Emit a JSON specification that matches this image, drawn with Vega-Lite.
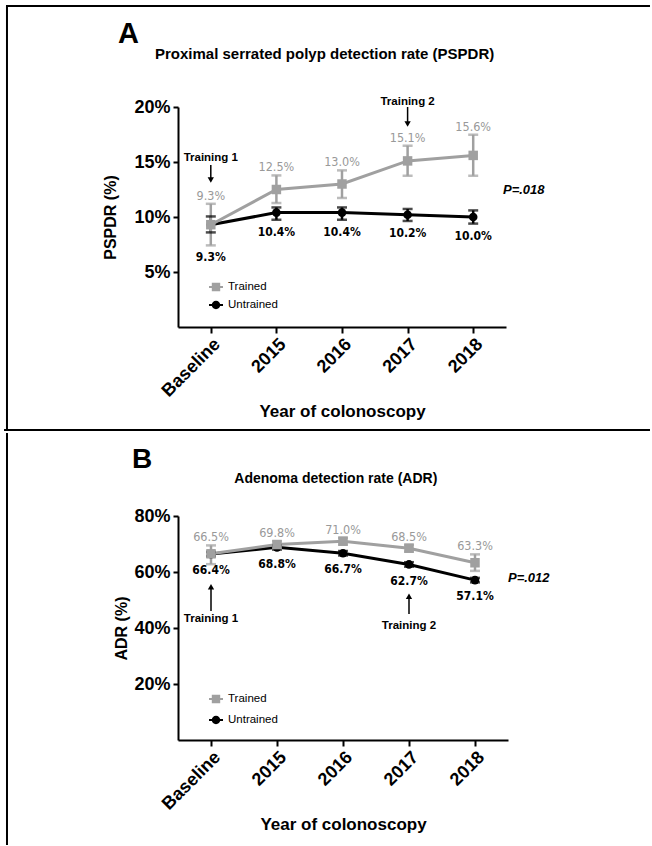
{
  "$schema": "https://vega.github.io/schema/vega-lite/v6.json",
  "padding": {"left": 3, "top": 5, "right": 0, "bottom": 0},
  "background": "white",
  "spacing": 0,
  "resolve": {"scale": {"color": "independent", "shape": "independent"}},
  "datasets": {
    "pspdr": [
      {"group": "Untrained", "year": "Baseline", "value": 0.093, "lo": 0.086, "hi": 0.1005},
      {"group": "Untrained", "year": "2015", "value": 0.104, "lo": 0.0975, "hi": 0.1087},
      {"group": "Untrained", "year": "2016", "value": 0.104, "lo": 0.0975, "hi": 0.1087},
      {"group": "Untrained", "year": "2017", "value": 0.102, "lo": 0.0964, "hi": 0.1073},
      {"group": "Untrained", "year": "2018", "value": 0.100, "lo": 0.094, "hi": 0.106},
      {"group": "Trained", "year": "Baseline", "value": 0.093, "lo": 0.0742, "hi": 0.112},
      {"group": "Trained", "year": "2015", "value": 0.125, "lo": 0.1127, "hi": 0.1378},
      {"group": "Trained", "year": "2016", "value": 0.130, "lo": 0.1173, "hi": 0.1424},
      {"group": "Trained", "year": "2017", "value": 0.151, "lo": 0.1375, "hi": 0.1648},
      {"group": "Trained", "year": "2018", "value": 0.156, "lo": 0.1375, "hi": 0.1748}
    ],
    "adr": [
      {"group": "Untrained", "year": "Baseline", "value": 0.664, "lo": 0.656, "hi": 0.672},
      {"group": "Untrained", "year": "2015", "value": 0.688, "lo": 0.680, "hi": 0.696},
      {"group": "Untrained", "year": "2016", "value": 0.667, "lo": 0.659, "hi": 0.675},
      {"group": "Untrained", "year": "2017", "value": 0.627, "lo": 0.619, "hi": 0.635},
      {"group": "Untrained", "year": "2018", "value": 0.571, "lo": 0.563, "hi": 0.579},
      {"group": "Trained", "year": "Baseline", "value": 0.665, "lo": 0.628, "hi": 0.695},
      {"group": "Trained", "year": "2015", "value": 0.698, "lo": 0.686, "hi": 0.710},
      {"group": "Trained", "year": "2016", "value": 0.710, "lo": 0.698, "hi": 0.722},
      {"group": "Trained", "year": "2017", "value": 0.685, "lo": 0.673, "hi": 0.697},
      {"group": "Trained", "year": "2018", "value": 0.633, "lo": 0.604, "hi": 0.663}
    ]
  },
  "config": {
    "font": "Liberation Sans",
    "view": {"stroke": null},
    "axis": {"grid": false, "domainColor": "black", "domainWidth": 2, "tickColor": "black", "tickWidth": 2, "labelColor": "black", "labelFont": "Liberation Sans", "labelFontWeight": "bold", "titleFont": "Liberation Sans", "titleFontWeight": "bold", "titleColor": "black"},
    "axisX": {"labelAngle": -45, "labelFontSize": 18, "tickSize": 6, "labelPadding": 2, "titleFontSize": 17, "titlePadding": 3},
    "axisY": {"labelFontSize": 18, "tickSize": 5, "labelPadding": 3, "titleFontSize": 16},
    "legend": {"title": null, "padding": 0, "labelFont": "Liberation Sans", "labelColor": "black", "labelFontSize": 11.5, "symbolSize": 196, "symbolStrokeWidth": 0, "symbolOpacity": 1}
  },
  "vconcat": [
    {
      "width": 328,
      "height": 220,
      "resolve": {"scale": {"x": "independent"}},
      "layer": [
        {
          "data": {"name": "pspdr"},
          "encoding": {
            "x": {"field": "year", "type": "ordinal", "scale": {"type": "point", "domain": ["Baseline", "2015", "2016", "2017", "2018"], "padding": 0.5}, "axis": {"title": "Year of colonoscopy"}},
            "y": {"field": "value", "type": "quantitative", "scale": {"domain": [0, 0.2], "nice": false}, "axis": {"title": "PSPDR (%)", "values": [0.05, 0.1, 0.15, 0.2], "format": ".0%", "titlePadding": 15}}
          },
          "layer": [
            {
              "mark": {"type": "line", "strokeWidth": 3},
              "encoding": {
                "color": {"field": "group", "type": "nominal", "scale": {"domain": ["Trained", "Untrained"], "range": ["#a0a0a0", "#000000"]}},
                "order": {"value": null}
              }
            },
            {
              "mark": {"type": "rule", "strokeWidth": 2.5},
              "encoding": {"y": {"field": "lo", "type": "quantitative"}, "y2": {"field": "hi"}, "color": {"field": "group", "type": "nominal"}}
            },
            {
              "mark": {"type": "tick", "thickness": 2.5, "size": 10},
              "encoding": {"y": {"field": "lo", "type": "quantitative"}, "color": {"field": "group", "type": "nominal"}}
            },
            {
              "mark": {"type": "tick", "thickness": 2.5, "size": 10},
              "encoding": {"y": {"field": "hi", "type": "quantitative"}, "color": {"field": "group", "type": "nominal"}}
            },
            {
              "transform": [{"filter": "false"}],
              "mark": {"type": "point", "filled": true, "opacity": 1},
              "encoding": {
                "color": {"field": "group", "type": "nominal", "legend": {"orient": "none", "legendX": 31, "legendY": 173, "direction": "vertical", "rowPadding": 5, "labelOffset": 5, "symbolOpacity": 1}},
                "shape": {"field": "group", "type": "nominal", "scale": {"domain": ["Trained", "Untrained"], "range": ["M-1,-0.15H1V0.15H-1Z M-0.6,-0.6H0.6V0.6H-0.6Z", "M-1,-0.15H1V0.15H-1Z M0.6,0A0.6,0.6,0,1,1,-0.6,0A0.6,0.6,0,1,1,0.6,0Z"]}, "legend": {"orient": "none", "legendX": 31, "legendY": 173, "direction": "vertical", "rowPadding": 5, "labelOffset": 5, "symbolOpacity": 1}}
              }
            },
            {
              "transform": [{"filter": "datum.group === 'Untrained'"}],
              "mark": {"type": "point", "filled": true, "opacity": 1, "shape": "circle", "size": 75},
              "encoding": {"color": {"field": "group", "type": "nominal"}}
            },
            {
              "transform": [{"filter": "datum.group === 'Trained'"}],
              "mark": {"type": "point", "filled": true, "opacity": 1, "shape": "square", "size": 90},
              "encoding": {"color": {"field": "group", "type": "nominal"}}
            },
            {
              "transform": [{"filter": "datum.group === 'Trained'"}],
              "mark": {"type": "text", "dy": -8, "baseline": "middle", "font": "DejaVu Sans Condensed", "fontSize": 12.5, "color": "#999999"},
              "encoding": {"y": {"field": "hi", "type": "quantitative"}, "text": {"field": "value", "type": "quantitative", "format": ".1%"}}
            },
            {
              "transform": [{"filter": "datum.group === 'Untrained' && datum.year !== 'Baseline'"}],
              "mark": {"type": "text", "dy": 12, "baseline": "middle", "font": "DejaVu Sans Condensed", "fontWeight": "bold", "fontSize": 12, "color": "#000000"},
              "encoding": {"y": {"field": "lo", "type": "quantitative"}, "text": {"field": "value", "type": "quantitative", "format": ".1%"}}
            },
            {
              "transform": [{"filter": "datum.group === 'Untrained' && datum.year === 'Baseline'"}],
              "mark": {"type": "text", "dy": 25, "baseline": "middle", "font": "DejaVu Sans Condensed", "fontWeight": "bold", "fontSize": 12, "color": "#000000"},
              "encoding": {"y": {"field": "lo", "type": "quantitative"}, "text": {"field": "value", "type": "quantitative", "format": ".1%"}}
            }
          ]
        },
        {
          "data": {"values": [{}]},
          "layer": [
            {
              "mark": {"type": "rule", "strokeWidth": 2, "color": "black"},
              "encoding": {"x": {"datum": -2.622, "type": "quantitative", "scale": {"domain": [0, 5], "nice": false, "zero": false}, "axis": null}, "x2": {"datum": 7.195}, "y": {"datum": 0.2918, "type": "quantitative"}}
            },
            {
              "mark": {"type": "rule", "strokeWidth": 2, "color": "black"},
              "encoding": {"x": {"datum": -2.607, "type": "quantitative", "scale": {"domain": [0, 5], "nice": false, "zero": false}, "axis": null}, "y": {"datum": 0.2918, "type": "quantitative"}, "y2": {"datum": -0.09364}}
            },
            {
              "mark": {"type": "rule", "strokeWidth": 2, "color": "black"},
              "encoding": {"x": {"datum": -2.652, "type": "quantitative", "scale": {"domain": [0, 5], "nice": false, "zero": false}, "axis": null}, "x2": {"datum": 7.195}, "y": {"datum": -0.09364, "type": "quantitative"}}
            },
            {
              "mark": {"type": "text", "text": "A", "fontWeight": "bold", "fontSize": 29, "align": "left", "baseline": "alphabetic", "color": "black"},
              "encoding": {"x": {"datum": -0.915, "type": "quantitative", "scale": {"domain": [0, 5], "nice": false, "zero": false}, "axis": null}, "y": {"datum": 0.2582, "type": "quantitative"}}
            },
            {
              "mark": {"type": "text", "text": "Proximal serrated polyp detection rate (PSPDR)", "fontWeight": "bold", "fontSize": 15, "align": "left", "baseline": "alphabetic", "color": "black"},
              "encoding": {"x": {"datum": -0.351, "type": "quantitative", "scale": {"domain": [0, 5], "nice": false, "zero": false}, "axis": null}, "y": {"datum": 0.2436, "type": "quantitative"}}
            },
            {
              "mark": {"type": "text", "text": "P=.018", "fontWeight": "bold", "fontStyle": "italic", "fontSize": 13, "align": "left", "baseline": "middle", "color": "black"},
              "encoding": {"x": {"datum": 4.954, "type": "quantitative", "scale": {"domain": [0, 5], "nice": false, "zero": false}, "axis": null}, "y": {"datum": 0.1245, "type": "quantitative"}}
            },
            {
              "mark": {"type": "text", "text": "Training 1", "fontWeight": "bold", "fontSize": 11.5, "baseline": "middle", "color": "black"},
              "encoding": {"x": {"datum": 0.5, "type": "quantitative", "scale": {"domain": [0, 5], "nice": false, "zero": false}, "axis": null}, "y": {"datum": 0.1532, "type": "quantitative"}}
            },
            {
              "mark": {"type": "rule", "strokeWidth": 1.5, "color": "black"},
              "encoding": {"x": {"datum": 0.5, "type": "quantitative", "scale": {"domain": [0, 5], "nice": false, "zero": false}, "axis": null}, "y": {"datum": 0.1473, "type": "quantitative"}, "y2": {"datum": 0.1355}}
            },
            {
              "mark": {"type": "point", "shape": "triangle-down", "filled": true, "size": 40, "color": "black", "opacity": 1},
              "encoding": {"x": {"datum": 0.5, "type": "quantitative", "scale": {"domain": [0, 5], "nice": false, "zero": false}, "axis": null}, "y": {"datum": 0.1336, "type": "quantitative"}}
            },
            {
              "mark": {"type": "text", "text": "Training 2", "fontWeight": "bold", "fontSize": 11.5, "baseline": "middle", "color": "black"},
              "encoding": {"x": {"datum": 3.5, "type": "quantitative", "scale": {"domain": [0, 5], "nice": false, "zero": false}, "axis": null}, "y": {"datum": 0.2048, "type": "quantitative"}}
            },
            {
              "mark": {"type": "rule", "strokeWidth": 1.5, "color": "black"},
              "encoding": {"x": {"datum": 3.5, "type": "quantitative", "scale": {"domain": [0, 5], "nice": false, "zero": false}, "axis": null}, "y": {"datum": 0.2, "type": "quantitative"}, "y2": {"datum": 0.1864}}
            },
            {
              "mark": {"type": "point", "shape": "triangle-down", "filled": true, "size": 40, "color": "black", "opacity": 1},
              "encoding": {"x": {"datum": 3.5, "type": "quantitative", "scale": {"domain": [0, 5], "nice": false, "zero": false}, "axis": null}, "y": {"datum": 0.1845, "type": "quantitative"}}
            }
          ]
        }
      ]
    },
    {
      "width": 330,
      "height": 224,
      "resolve": {"scale": {"x": "independent"}},
      "layer": [
        {
          "data": {"name": "adr"},
          "encoding": {
            "x": {"field": "year", "type": "ordinal", "scale": {"type": "point", "domain": ["Baseline", "2015", "2016", "2017", "2018"], "padding": 0.5}, "axis": {"title": "Year of colonoscopy"}},
            "y": {"field": "value", "type": "quantitative", "scale": {"domain": [0, 0.8], "nice": false}, "axis": {"title": "ADR (%)", "values": [0.2, 0.4, 0.6, 0.8], "format": ".0%", "titlePadding": 4}}
          },
          "layer": [
            {
              "mark": {"type": "line", "strokeWidth": 3},
              "encoding": {
                "color": {"field": "group", "type": "nominal", "scale": {"domain": ["Trained", "Untrained"], "range": ["#a0a0a0", "#000000"]}},
                "order": {"value": null}
              }
            },
            {
              "mark": {"type": "rule", "strokeWidth": 2.5},
              "encoding": {"y": {"field": "lo", "type": "quantitative"}, "y2": {"field": "hi"}, "color": {"field": "group", "type": "nominal"}}
            },
            {
              "mark": {"type": "tick", "thickness": 2.5, "size": 10},
              "encoding": {"y": {"field": "lo", "type": "quantitative"}, "color": {"field": "group", "type": "nominal"}}
            },
            {
              "mark": {"type": "tick", "thickness": 2.5, "size": 10},
              "encoding": {"y": {"field": "hi", "type": "quantitative"}, "color": {"field": "group", "type": "nominal"}}
            },
            {
              "transform": [{"filter": "false"}],
              "mark": {"type": "point", "filled": true, "opacity": 1},
              "encoding": {
                "color": {"field": "group", "type": "nominal", "legend": {"orient": "none", "legendX": 31, "legendY": 176, "direction": "vertical", "rowPadding": 8, "labelOffset": 5, "symbolOpacity": 1}},
                "shape": {"field": "group", "type": "nominal", "scale": {"domain": ["Trained", "Untrained"], "range": ["M-1,-0.15H1V0.15H-1Z M-0.6,-0.6H0.6V0.6H-0.6Z", "M-1,-0.15H1V0.15H-1Z M0.6,0A0.6,0.6,0,1,1,-0.6,0A0.6,0.6,0,1,1,0.6,0Z"]}, "legend": {"orient": "none", "legendX": 31, "legendY": 176, "direction": "vertical", "rowPadding": 8, "labelOffset": 5, "symbolOpacity": 1}}
              }
            },
            {
              "transform": [{"filter": "datum.group === 'Untrained'"}],
              "mark": {"type": "point", "filled": true, "opacity": 1, "shape": "circle", "size": 75},
              "encoding": {"color": {"field": "group", "type": "nominal"}}
            },
            {
              "transform": [{"filter": "datum.group === 'Trained'"}],
              "mark": {"type": "point", "filled": true, "opacity": 1, "shape": "square", "size": 90},
              "encoding": {"color": {"field": "group", "type": "nominal"}}
            },
            {
              "transform": [{"filter": "datum.group === 'Trained'"}],
              "mark": {"type": "text", "dy": -8, "baseline": "middle", "font": "DejaVu Sans Condensed", "fontSize": 12.5, "color": "#999999"},
              "encoding": {"y": {"field": "hi", "type": "quantitative"}, "text": {"field": "value", "type": "quantitative", "format": ".1%"}}
            },
            {
              "transform": [{"filter": "datum.group === 'Untrained'"}],
              "mark": {"type": "text", "dy": 14, "baseline": "middle", "font": "DejaVu Sans Condensed", "fontWeight": "bold", "fontSize": 12, "color": "#000000"},
              "encoding": {"y": {"field": "lo", "type": "quantitative"}, "text": {"field": "value", "type": "quantitative", "format": ".1%"}}
            }
          ]
        },
        {
          "data": {"values": [{}]},
          "layer": [
            {
              "mark": {"type": "rule", "strokeWidth": 2, "color": "black"},
              "encoding": {"x": {"datum": -2.591, "type": "quantitative", "scale": {"domain": [0, 5], "nice": false, "zero": false}, "axis": null}, "y": {"datum": 1.0964, "type": "quantitative"}, "y2": {"datum": -0.375}}
            },
            {
              "mark": {"type": "text", "text": "B", "fontWeight": "bold", "fontSize": 28, "align": "left", "baseline": "alphabetic", "color": "black"},
              "encoding": {"x": {"datum": -0.697, "type": "quantitative", "scale": {"domain": [0, 5], "nice": false, "zero": false}, "axis": null}, "y": {"datum": 0.9714, "type": "quantitative"}}
            },
            {
              "mark": {"type": "text", "text": "Adenoma detection rate (ADR)", "fontWeight": "bold", "fontSize": 14, "align": "left", "baseline": "alphabetic", "color": "black"},
              "encoding": {"x": {"datum": 0.853, "type": "quantitative", "scale": {"domain": [0, 5], "nice": false, "zero": false}, "axis": null}, "y": {"datum": 0.9168, "type": "quantitative"}}
            },
            {
              "mark": {"type": "text", "text": "P=.012", "fontWeight": "bold", "fontStyle": "italic", "fontSize": 13, "align": "left", "baseline": "middle", "color": "black"},
              "encoding": {"x": {"datum": 5.0, "type": "quantitative", "scale": {"domain": [0, 5], "nice": false, "zero": false}, "axis": null}, "y": {"datum": 0.5786, "type": "quantitative"}}
            },
            {
              "mark": {"type": "text", "text": "Training 1", "fontWeight": "bold", "fontSize": 11.5, "baseline": "middle", "color": "black"},
              "encoding": {"x": {"datum": 0.5, "type": "quantitative", "scale": {"domain": [0, 5], "nice": false, "zero": false}, "axis": null}, "y": {"datum": 0.432, "type": "quantitative"}}
            },
            {
              "mark": {"type": "rule", "strokeWidth": 1.5, "color": "black"},
              "encoding": {"x": {"datum": 0.5, "type": "quantitative", "scale": {"domain": [0, 5], "nice": false, "zero": false}, "axis": null}, "y": {"datum": 0.5393, "type": "quantitative"}, "y2": {"datum": 0.4607}}
            },
            {
              "mark": {"type": "point", "shape": "triangle-up", "filled": true, "size": 40, "color": "black", "opacity": 1},
              "encoding": {"x": {"datum": 0.5, "type": "quantitative", "scale": {"domain": [0, 5], "nice": false, "zero": false}, "axis": null}, "y": {"datum": 0.5475, "type": "quantitative"}}
            },
            {
              "mark": {"type": "text", "text": "Training 2", "fontWeight": "bold", "fontSize": 11.5, "baseline": "middle", "color": "black"},
              "encoding": {"x": {"datum": 3.5, "type": "quantitative", "scale": {"domain": [0, 5], "nice": false, "zero": false}, "axis": null}, "y": {"datum": 0.407, "type": "quantitative"}}
            },
            {
              "mark": {"type": "rule", "strokeWidth": 1.5, "color": "black"},
              "encoding": {"x": {"datum": 3.5, "type": "quantitative", "scale": {"domain": [0, 5], "nice": false, "zero": false}, "axis": null}, "y": {"datum": 0.5036, "type": "quantitative"}, "y2": {"datum": 0.45}}
            },
            {
              "mark": {"type": "point", "shape": "triangle-up", "filled": true, "size": 40, "color": "black", "opacity": 1},
              "encoding": {"x": {"datum": 3.5, "type": "quantitative", "scale": {"domain": [0, 5], "nice": false, "zero": false}, "axis": null}, "y": {"datum": 0.5132, "type": "quantitative"}}
            }
          ]
        }
      ]
    }
  ]
}
